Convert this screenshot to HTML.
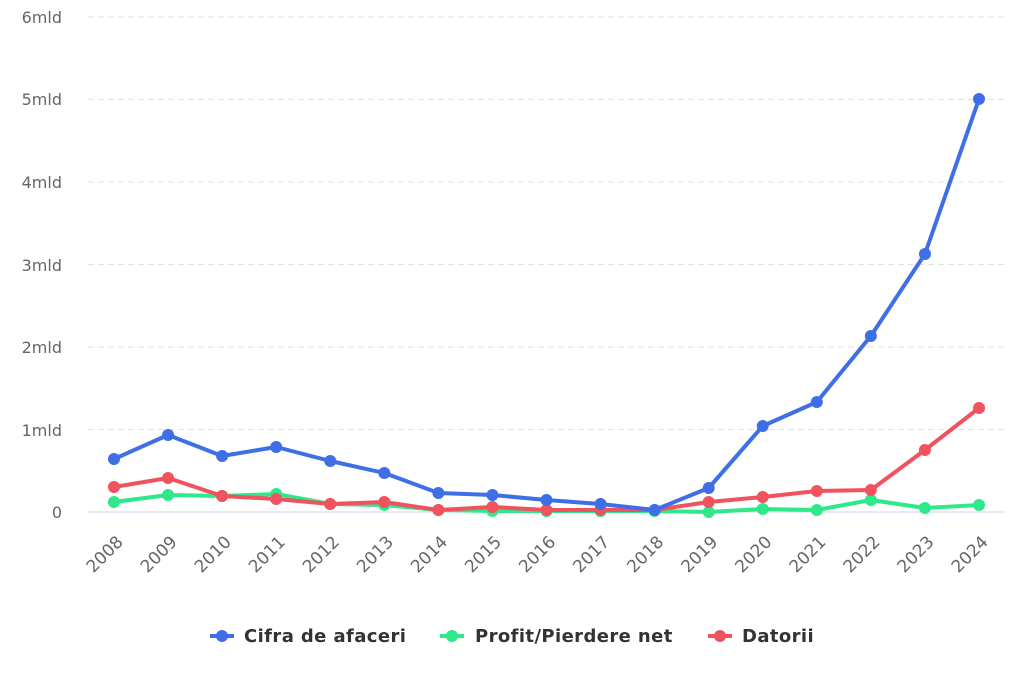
<!DOCTYPE html>
<html><head><meta charset="utf-8"><style>
body{margin:0;background:#fff;}
svg{display:block;font-family:"DejaVu Sans","Liberation Sans",sans-serif;}
</style></head><body>
<svg width="1024" height="683" viewBox="0 0 1024 683">
<g stroke="#e0e0e0" stroke-width="1" stroke-dasharray="6,4">
<line x1="88" x2="1005" y1="17" y2="17"/>
<line x1="88" x2="1005" y1="99.5" y2="99.5"/>
<line x1="88" x2="1005" y1="182" y2="182"/>
<line x1="88" x2="1005" y1="264.5" y2="264.5"/>
<line x1="88" x2="1005" y1="347" y2="347"/>
<line x1="88" x2="1005" y1="429.5" y2="429.5"/>
</g>
<line x1="88" x2="1005" y1="512" y2="512" stroke="#ccd6eb" stroke-width="1"/>
<g font-size="16" fill="#666" text-anchor="end">
<text x="62" y="23">6mld</text><text x="62" y="105">5mld</text><text x="62" y="188">4mld</text>
<text x="62" y="271">3mld</text><text x="62" y="353">2mld</text><text x="62" y="436">1mld</text>
<text x="62" y="518">0</text>
</g>
<g font-size="17" fill="#666" text-anchor="end" id="xl"></g>
<g id="series"></g>
<g font-size="18" font-weight="bold" fill="#333" letter-spacing="0.4">
<line x1="210" x2="234" y1="636" y2="636" stroke="#3f6fe6" stroke-width="4"/><circle cx="222" cy="636" r="6" fill="#3f6fe6"/>
<text x="244" y="642">Cifra de afaceri</text>
<line x1="440" x2="464" y1="636" y2="636" stroke="#2ee88a" stroke-width="4"/><circle cx="452" cy="636" r="6" fill="#2ee88a"/>
<text x="475" y="642">Profit/Pierdere net</text>
<line x1="708" x2="732" y1="636" y2="636" stroke="#f0525e" stroke-width="4"/><circle cx="720" cy="636" r="6" fill="#f0525e"/>
<text x="742" y="642">Datorii</text>
</g>
</svg>
<script>
var ns="http://www.w3.org/2000/svg";
var x0=114,dx=(979-114)/16;
var xl=document.getElementById("xl");
for(var i=0;i<17;i++){var t=document.createElementNS(ns,"text");var x=x0+i*dx+10,y=543;
t.setAttribute("x",x);t.setAttribute("y",y);t.setAttribute("transform","rotate(-45 "+x+" "+y+")");t.textContent=2008+i;xl.appendChild(t);}
var S=[["#2ee88a",[502,495,496,494,504,505,510,511,511,511,511,512,509,510,500,508,505]],
["#f0525e",[487,478,496,499,504,502,510,507,510,510,510,502,497,491,490,450,408]],
["#3f6fe6",[459,435,456,447,461,473,493,495,500,504,510,488,426,402,336,254,99]]];
var g=document.getElementById("series");
S.forEach(function(s){var p=s[1].map(function(y,i){return (x0+i*dx)+","+y}).join(" ");
var l=document.createElementNS(ns,"polyline");l.setAttribute("points",p);l.setAttribute("fill","none");l.setAttribute("stroke",s[0]);l.setAttribute("stroke-width","4");l.setAttribute("stroke-linejoin","round");g.appendChild(l);
s[1].forEach(function(y,i){var c=document.createElementNS(ns,"circle");c.setAttribute("cx",x0+i*dx);c.setAttribute("cy",y);c.setAttribute("r","6");c.setAttribute("fill",s[0]);g.appendChild(c);});});
</script>
</body></html>
